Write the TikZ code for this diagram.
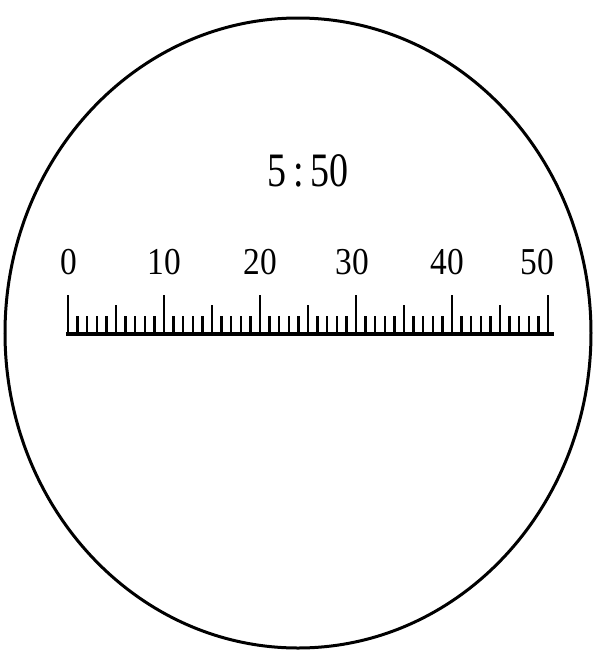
\documentclass[tikz,border=0pt]{standalone}
\usepackage{fontspec}
\setmainfont{Liberation Serif}
\usetikzlibrary{positioning}
\tikzset{
  lbl/.style={font=\fontsize{19}{21}\selectfont, inner sep=0pt, xscale=0.88},
  tick/.style={line width=1.2pt},
}
\begin{document}
\begin{tikzpicture}[x=0.5pt,y=-0.5pt]
\useasboundingbox (0,0) rectangle (599,660);
% lens outline
\draw[line width=1.5pt] (298,333) ellipse [x radius=293, y radius=315];
\node[lbl, font=\fontsize{24}{26}\selectfont, xscale=0.9] (ratio) at (308,171) {5\,:\,50};
% scale
\coordinate (s0) at (66,334);
\coordinate (s1) at (554,334);
\draw[line width=1.6pt] (s0) -- (s1);
\foreach \i in {0,...,50} {
  \pgfmathsetmacro{\xx}{68+9.6*\i}
  \pgfmathsetmacro{\top}{mod(\i,10)==0 ? 295 : (mod(\i,5)==0 ? 305 : 316)}
  \draw[tick] (\xx,334) -- (\xx,\top);
}
\foreach \v/\x [count=\k from 0] in {0/69,10/164,20/260,30/352,40/447,50/537} {
  \node[lbl] (n\k) at (\x,262) {\v};
}
\end{tikzpicture}
\end{document}
